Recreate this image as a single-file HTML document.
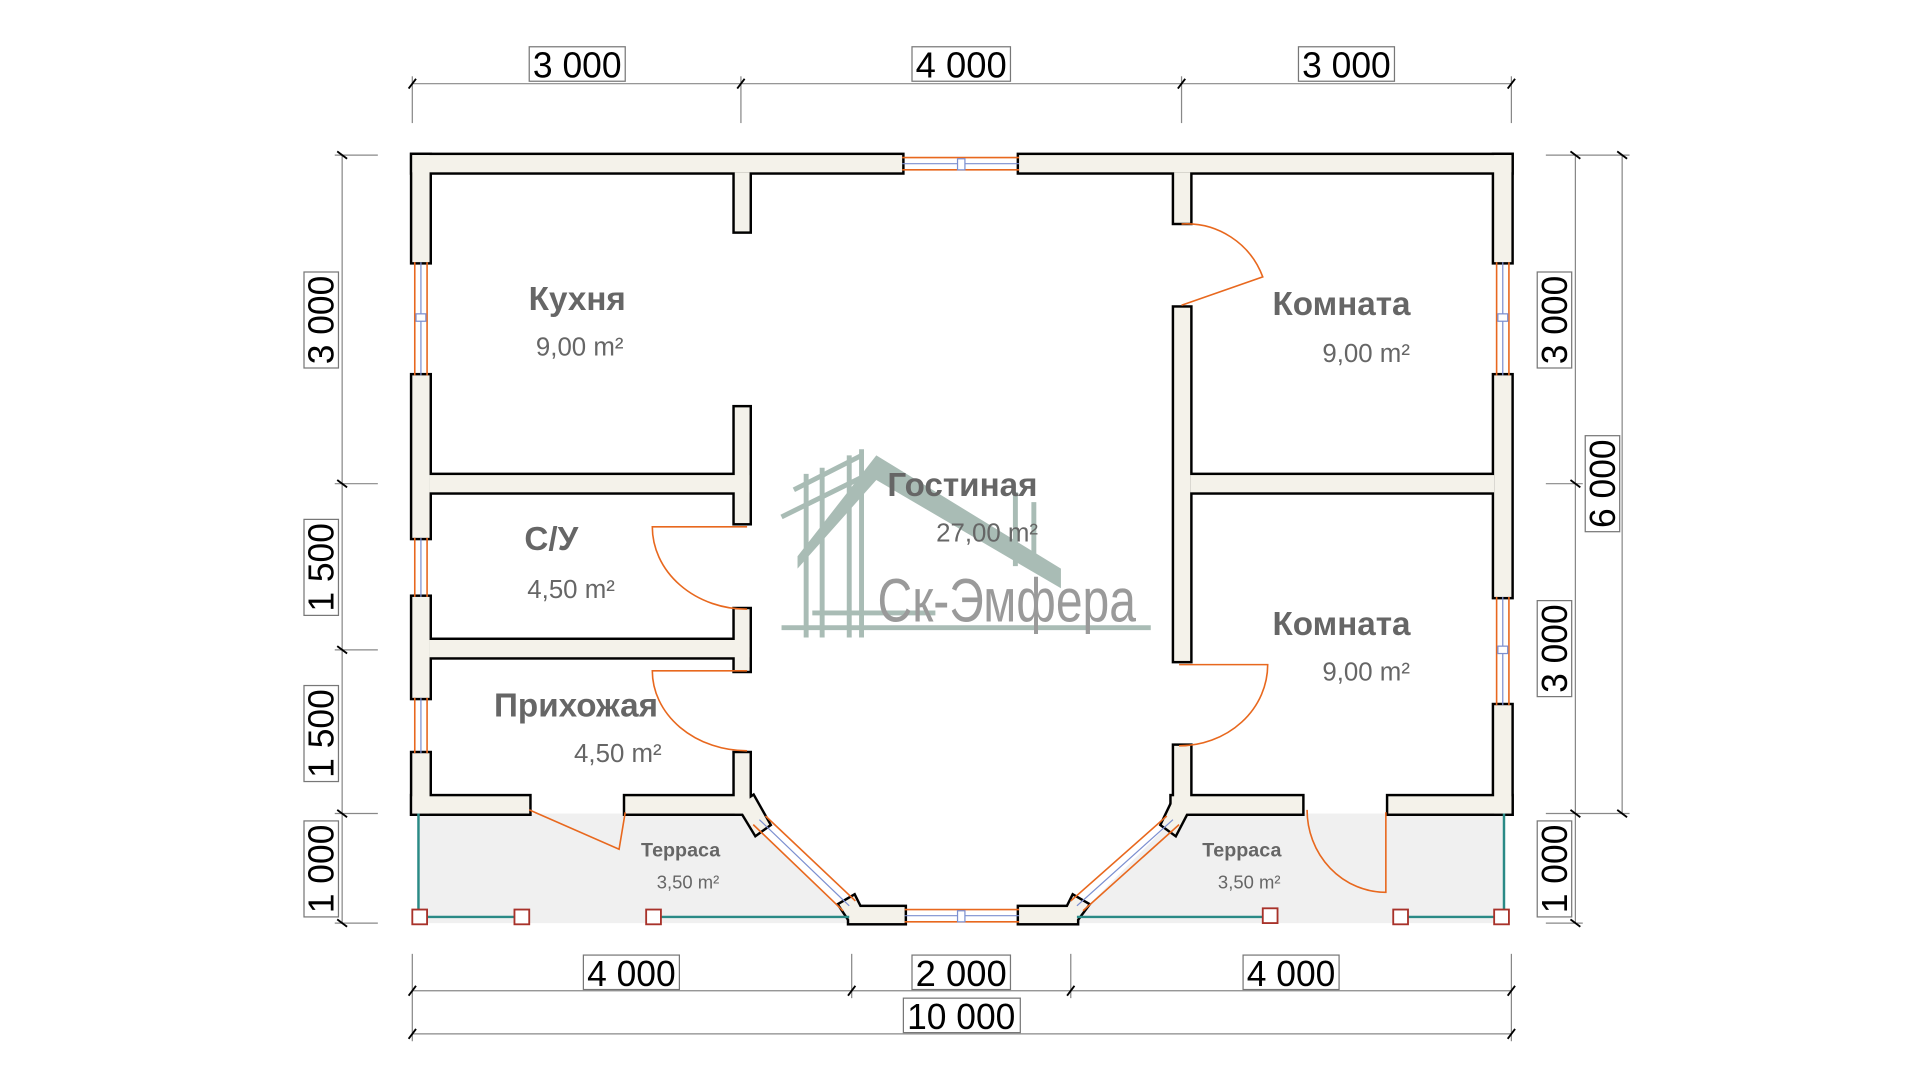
<!DOCTYPE html>
<html><head><meta charset="utf-8"><style>
html,body{margin:0;padding:0;background:#fff;}
svg{display:block;}
text{font-family:"Liberation Sans","DejaVu Sans",sans-serif;}
</style></head><body>
<svg width="1920" height="1080" viewBox="0 0 1560 877.5" preserveAspectRatio="none" xmlns="http://www.w3.org/2000/svg">
<rect x="0" y="0" width="1560" height="877.5" fill="#fff"/>
<polygon points="340,661 603,661 690,745 690,750 340,750" fill="#f0f0f0"/>
<polygon points="958,661 1222,661 1222,750 875,750 875,745" fill="#f0f0f0"/>

<g stroke="#a9bcb5" fill="none" stroke-width="4">
<line x1="645" y1="398" x2="700" y2="370"/><line x1="635" y1="420" x2="710" y2="383"/>
<line x1="655" y1="385" x2="655" y2="518"/><line x1="668" y1="380" x2="668" y2="518"/>
<line x1="690" y1="370" x2="690" y2="518"/><line x1="700" y1="365" x2="700" y2="518"/>
<line x1="825" y1="400" x2="825" y2="460"/><line x1="840" y1="408" x2="840" y2="460"/>
<line x1="635" y1="510" x2="935" y2="510"/><line x1="660" y1="498" x2="760" y2="498"/>
</g>
<polygon points="648,452 712,370 862,462 862,478 712,390 648,462" fill="#a9bcb5"/>
<text x="818" y="505" font-size="50" fill="#9a9a9a" text-anchor="middle" textLength="210" lengthAdjust="spacingAndGlyphs">Ск-Эмфера</text>

<g fill="#000" stroke="#000" stroke-width="4" stroke-linejoin="miter">
<rect x="335" y="126" width="398" height="14"/><rect x="828" y="126" width="400" height="14"/>
<rect x="335" y="126" width="14" height="87"/><rect x="335" y="305" width="14" height="132"/><rect x="335" y="485" width="14" height="82"/><rect x="335" y="612" width="14" height="49"/>
<rect x="1214" y="126" width="14" height="87"/><rect x="1214" y="305" width="14" height="180"/><rect x="1214" y="573" width="14" height="88"/>
<rect x="335" y="647" width="95" height="14"/><rect x="508" y="647" width="101" height="14"/>
<rect x="952" y="647" width="106" height="14"/><rect x="1128" y="647" width="100" height="14"/>
<rect x="597" y="140" width="12" height="48"/><rect x="597" y="331" width="12" height="94"/>
<rect x="349" y="386" width="260" height="14"/><rect x="597" y="495" width="12" height="50"/>
<rect x="349" y="520" width="260" height="14"/><rect x="597" y="612" width="12" height="49"/>
<rect x="954" y="140" width="13" height="41"/><rect x="954" y="250" width="13" height="287"/>
<rect x="967" y="386" width="247" height="14"/><rect x="954" y="606" width="13" height="55"/>
<rect x="690" y="737" width="45" height="13"/><rect x="828" y="737" width="47" height="13"/>
<polygon points="600,655 612,647 625,670 614,678"/><polygon points="682,735 694,728 700,740 690,747"/>
<polygon points="955,647 967,655 955,678 944,670"/><polygon points="872,728 884,735 875,747 866,740"/>
</g>
<g fill="#f4f2ea">
<rect x="335" y="126" width="398" height="14"/><rect x="828" y="126" width="400" height="14"/>
<rect x="335" y="126" width="14" height="87"/><rect x="335" y="305" width="14" height="132"/><rect x="335" y="485" width="14" height="82"/><rect x="335" y="612" width="14" height="49"/>
<rect x="1214" y="126" width="14" height="87"/><rect x="1214" y="305" width="14" height="180"/><rect x="1214" y="573" width="14" height="88"/>
<rect x="335" y="647" width="95" height="14"/><rect x="508" y="647" width="101" height="14"/>
<rect x="952" y="647" width="106" height="14"/><rect x="1128" y="647" width="100" height="14"/>
<rect x="597" y="140" width="12" height="48"/><rect x="597" y="331" width="12" height="94"/>
<rect x="349" y="386" width="260" height="14"/><rect x="597" y="495" width="12" height="50"/>
<rect x="349" y="520" width="260" height="14"/><rect x="597" y="612" width="12" height="49"/>
<rect x="954" y="140" width="13" height="41"/><rect x="954" y="250" width="13" height="287"/>
<rect x="967" y="386" width="247" height="14"/><rect x="954" y="606" width="13" height="55"/>
<rect x="690" y="737" width="45" height="13"/><rect x="828" y="737" width="47" height="13"/>
<polygon points="600,655 612,647 625,670 614,678"/><polygon points="682,735 694,728 700,740 690,747"/>
<polygon points="955,647 967,655 955,678 944,670"/><polygon points="872,728 884,735 875,747 866,740"/>
</g>

<g stroke="#e8681e" stroke-width="1.3" fill="none">
<line x1="733" y1="128" x2="828" y2="128"/><line x1="733" y1="138" x2="828" y2="138"/>
<line x1="735" y1="739" x2="828" y2="739"/><line x1="735" y1="749" x2="828" y2="749"/>
<line x1="337" y1="213" x2="337" y2="305"/><line x1="347" y1="213" x2="347" y2="305"/>
<line x1="337" y1="437" x2="337" y2="485"/><line x1="347" y1="437" x2="347" y2="485"/>
<line x1="337" y1="567" x2="337" y2="612"/><line x1="347" y1="567" x2="347" y2="612"/>
<line x1="1216" y1="213" x2="1216" y2="305"/><line x1="1226" y1="213" x2="1226" y2="305"/>
<line x1="1216" y1="485" x2="1216" y2="573"/><line x1="1226" y1="485" x2="1226" y2="573"/>
<line x1="612" y1="670" x2="685" y2="740"/><line x1="622" y1="663" x2="695" y2="732"/>
<line x1="948" y1="663" x2="870" y2="732"/><line x1="958" y1="670" x2="880" y2="740"/>
</g>
<g stroke="#7c8fd0" stroke-width="1" fill="none">
<line x1="733" y1="133" x2="828" y2="133"/><line x1="735" y1="744" x2="828" y2="744"/>
<line x1="342" y1="213" x2="342" y2="305"/><line x1="342" y1="437" x2="342" y2="485"/><line x1="342" y1="567" x2="342" y2="612"/>
<line x1="1221" y1="213" x2="1221" y2="305"/><line x1="1221" y1="485" x2="1221" y2="573"/>
<line x1="617" y1="666" x2="690" y2="736"/><line x1="953" y1="666" x2="875" y2="736"/>
</g>
<g fill="#fff" stroke="#7c8fd0" stroke-width="1">
<rect x="778" y="129" width="6" height="9"/><rect x="778" y="740" width="6" height="9"/>
<rect x="338" y="255" width="8" height="6"/><rect x="1217" y="255" width="8" height="6"/>
<rect x="1217" y="525" width="8" height="6"/>
</g>

<g stroke="#e8681e" stroke-width="1.3" fill="none">
<path d="M960 182 A66 66 0 0 1 1026 225 L960 248"/>
<path d="M607 428 L530 428 A77 67 0 0 0 607 495"/>
<path d="M607 545 L530 545 A77 65 0 0 0 607 610"/>
<path d="M958 540 L1030 540 A72 66 0 0 1 958 606"/>
<path d="M430 658 L503 690 L508 660"/>
<path d="M1062 658 A64 67 0 0 0 1126 725 L1126 660"/>
</g>

<g stroke="#2a8a86" stroke-width="2" fill="none">
<line x1="340" y1="661" x2="340" y2="745"/><line x1="1222" y1="661" x2="1222" y2="745"/>
<line x1="341" y1="745" x2="424" y2="745"/><line x1="531" y1="745" x2="690" y2="745"/>
<line x1="875" y1="745" x2="1032" y2="745"/><line x1="1138" y1="745" x2="1220" y2="745"/>
</g>
<g fill="#fff" stroke="#a8322a" stroke-width="1.5">
<rect x="335" y="739" width="12" height="12"/><rect x="418" y="739" width="12" height="12"/>
<rect x="525" y="739" width="12" height="12"/><rect x="1026" y="738" width="12" height="12"/>
<rect x="1132" y="739" width="12" height="12"/><rect x="1214" y="739" width="12" height="12"/>
</g>

<g stroke="#888" stroke-width="1" fill="none">
<line x1="335" y1="68" x2="1228" y2="68"/>
<line x1="335" y1="62" x2="335" y2="100"/><line x1="602" y1="62" x2="602" y2="100"/><line x1="960" y1="62" x2="960" y2="100"/><line x1="1228" y1="62" x2="1228" y2="100"/>
<line x1="278" y1="126" x2="278" y2="750"/>
<line x1="272" y1="126" x2="307" y2="126"/><line x1="272" y1="393" x2="307" y2="393"/><line x1="272" y1="528" x2="307" y2="528"/><line x1="272" y1="661" x2="307" y2="661"/><line x1="272" y1="750" x2="307" y2="750"/>
<line x1="1280" y1="126" x2="1280" y2="750"/><line x1="1318" y1="126" x2="1318" y2="661"/>
<line x1="1256" y1="126" x2="1324" y2="126"/><line x1="1256" y1="393" x2="1286" y2="393"/><line x1="1256" y1="661" x2="1324" y2="661"/><line x1="1256" y1="750" x2="1286" y2="750"/>
<line x1="335" y1="805" x2="1228" y2="805"/><line x1="335" y1="840" x2="1228" y2="840"/>
<line x1="335" y1="775" x2="335" y2="846"/><line x1="692" y1="775" x2="692" y2="811"/><line x1="870" y1="775" x2="870" y2="811"/><line x1="1228" y1="775" x2="1228" y2="846"/>
</g>
<g stroke="#000" stroke-width="1.5">
<line x1="332" y1="72" x2="338" y2="64"/><line x1="599" y1="72" x2="605" y2="64"/><line x1="957" y1="72" x2="963" y2="64"/><line x1="1225" y1="72" x2="1231" y2="64"/>
<line x1="274" y1="123" x2="282" y2="129"/><line x1="274" y1="390" x2="282" y2="396"/><line x1="274" y1="525" x2="282" y2="531"/><line x1="274" y1="658" x2="282" y2="664"/><line x1="274" y1="747" x2="282" y2="753"/>
<line x1="1276" y1="123" x2="1284" y2="129"/><line x1="1276" y1="390" x2="1284" y2="396"/><line x1="1276" y1="658" x2="1284" y2="664"/><line x1="1276" y1="747" x2="1284" y2="753"/>
<line x1="1314" y1="123" x2="1322" y2="129"/><line x1="1314" y1="658" x2="1322" y2="664"/>
<line x1="332" y1="809" x2="338" y2="801"/><line x1="689" y1="809" x2="695" y2="801"/><line x1="867" y1="809" x2="873" y2="801"/><line x1="1225" y1="809" x2="1231" y2="801"/>
<line x1="332" y1="844" x2="338" y2="836"/><line x1="1225" y1="844" x2="1231" y2="836"/>
</g>
<g fill="#fff" stroke="#777" stroke-width="1">
<rect x="430" y="38" width="78" height="28"/><rect x="741" y="38" width="80" height="28"/><rect x="1055" y="38" width="78" height="28"/>
<rect x="474" y="776" width="78" height="28"/><rect x="741" y="776" width="80" height="28"/><rect x="1010" y="776" width="78" height="28"/>
<rect x="734" y="811" width="95" height="28"/>
<rect x="247" y="221" width="28" height="78"/><rect x="247" y="422" width="28" height="78"/><rect x="247" y="557" width="28" height="78"/><rect x="247" y="667" width="28" height="78"/>
<rect x="1249" y="221" width="28" height="78"/><rect x="1249" y="488" width="28" height="78"/><rect x="1249" y="667" width="28" height="78"/>
<rect x="1288" y="354" width="28" height="78"/>
</g>
<g font-size="29" fill="#000" text-anchor="middle">
<text x="469" y="63" textLength="72" lengthAdjust="spacingAndGlyphs">3 000</text>
<text x="781" y="63" textLength="74" lengthAdjust="spacingAndGlyphs">4 000</text>
<text x="1094" y="63" textLength="72" lengthAdjust="spacingAndGlyphs">3 000</text>
<text x="513" y="801" textLength="72" lengthAdjust="spacingAndGlyphs">4 000</text>
<text x="781" y="801" textLength="74" lengthAdjust="spacingAndGlyphs">2 000</text>
<text x="1049" y="801" textLength="72" lengthAdjust="spacingAndGlyphs">4 000</text>
<text x="781" y="836" textLength="88" lengthAdjust="spacingAndGlyphs">10 000</text>
<text transform="translate(271,260) rotate(-90)" textLength="72" lengthAdjust="spacingAndGlyphs">3 000</text>
<text transform="translate(271,461) rotate(-90)" textLength="72" lengthAdjust="spacingAndGlyphs">1 500</text>
<text transform="translate(271,596) rotate(-90)" textLength="72" lengthAdjust="spacingAndGlyphs">1 500</text>
<text transform="translate(271,706) rotate(-90)" textLength="72" lengthAdjust="spacingAndGlyphs">1 000</text>
<text transform="translate(1273,260) rotate(-90)" textLength="72" lengthAdjust="spacingAndGlyphs">3 000</text>
<text transform="translate(1273,527) rotate(-90)" textLength="72" lengthAdjust="spacingAndGlyphs">3 000</text>
<text transform="translate(1273,706) rotate(-90)" textLength="72" lengthAdjust="spacingAndGlyphs">1 000</text>
<text transform="translate(1312,393) rotate(-90)" textLength="72" lengthAdjust="spacingAndGlyphs">6 000</text>
</g>

<g fill="#666" text-anchor="middle">
<g font-size="27" font-weight="bold">
<text x="469" y="252">Кухня</text>
<text x="1090" y="256">Комната</text>
<text x="782" y="403">Гостиная</text>
<text x="448" y="447">С/У</text>
<text x="468" y="582">Прихожая</text>
<text x="1090" y="516">Комната</text>
</g>
<g font-size="21">
<text x="471" y="289">9,00 m²</text>
<text x="1110" y="294">9,00 m²</text>
<text x="802" y="440">27,00 m²</text>
<text x="464" y="486">4,50 m²</text>
<text x="502" y="619">4,50 m²</text>
<text x="1110" y="553">9,00 m²</text>
</g>
<g font-size="16" font-weight="bold">
<text x="553" y="696">Терраса</text>
<text x="1009" y="696">Терраса</text>
</g>
<g font-size="15">
<text x="559" y="722">3,50 m²</text>
<text x="1015" y="722">3,50 m²</text>
</g>
</g>
</svg>
</body></html>
